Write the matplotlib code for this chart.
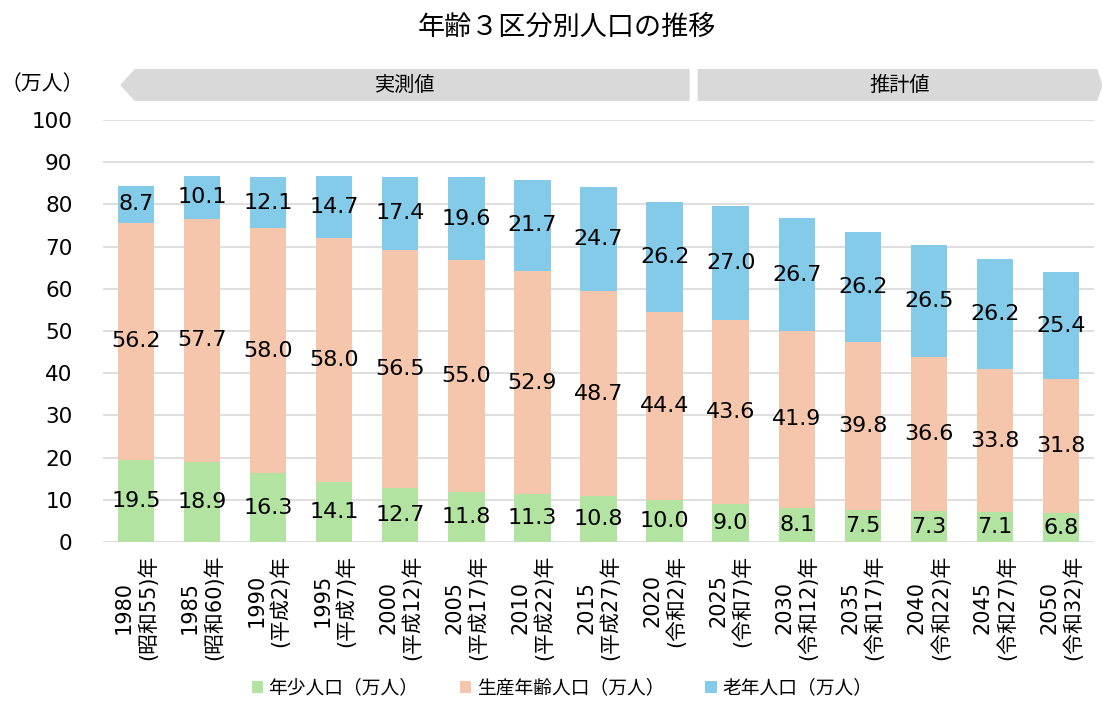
import numpy as np
import matplotlib
matplotlib.use("Agg")
import matplotlib.pyplot as plt
from matplotlib.patches import Polygon
from matplotlib.transforms import blended_transform_factory

plt.rcParams['font.family'] = ['DejaVu Sans', 'Noto Sans CJK JP']

# data (万人)
years = ["1980\n(昭和55)年", "1985\n(昭和60)年", "1990\n(平成2)年", "1995\n(平成7)年",
         "2000\n(平成12)年", "2005\n(平成17)年", "2010\n(平成22)年", "2015\n(平成27)年",
         "2020\n(令和2)年", "2025\n(令和7)年", "2030\n(令和12)年", "2035\n(令和17)年",
         "2040\n(令和22)年", "2045\n(令和27)年", "2050\n(令和32)年"]
young = [19.5, 18.9, 16.3, 14.1, 12.7, 11.8, 11.3, 10.8, 10.0, 9.0, 8.1, 7.5, 7.3, 7.1, 6.8]
working = [56.2, 57.7, 58.0, 58.0, 56.5, 55.0, 52.9, 48.7, 44.4, 43.6, 41.9, 39.8, 36.6, 33.8, 31.8]
old = [8.7, 10.1, 12.1, 14.7, 17.4, 19.6, 21.7, 24.7, 26.2, 27.0, 26.7, 26.2, 26.5, 26.2, 25.4]
series_names = ["年少人口（万人）", "生産年齢人口（万人）", "老年人口（万人）"]
colors = ["#B3E3A1", "#F5C6AC", "#84CBEA"]

fig = plt.figure(figsize=(11.02, 7.01), dpi=100)
ax = fig.add_axes([103 / 1102, 159 / 701, (1094 - 103) / 1102, 422 / 701])

x = np.arange(len(years))
w = 0.55
bottom = np.zeros(len(years))
for vals, name, c in zip([young, working, old], series_names, colors):
    vals = np.array(vals)
    bars = ax.bar(x, vals, w, bottom=bottom, color=c, label=name, zorder=2)
    for xi, b, v in zip(x, bottom, vals):
        ax.text(xi, b + v / 2, f"{v:.1f}", ha="center", va="center",
                fontsize=16, color="black", zorder=3)
    bottom = bottom + vals

ax.set_xlim(-0.5, len(years) - 0.5)
ax.set_ylim(0, 100)
ax.set_yticks(np.arange(0, 101, 10))
ax.yaxis.grid(True, color="#D9D9D9", linewidth=1.2, zorder=0)
ax.set_axisbelow(True)
for s in ax.spines.values():
    s.set_visible(False)
ax.tick_params(axis="both", length=0)
ax.tick_params(axis="y", labelsize=15.5, pad=22)
ax.set_xticks(x)
ax.set_xticklabels(years, rotation=90, fontsize=15, va="top", ha="center",
                   multialignment="center", linespacing=1.2)
ax.tick_params(axis="x", pad=9)

# title and unit
fig.text(0.514, 1 - 28 / 701, "年齢３区分別人口の推移", ha="center", va="center", fontsize=19.5)
fig.text(42 / 1102, 1 - 84 / 701, "（万人）", ha="center", va="center", fontsize=15)

# 実測値 / 推計値 bands
tr = blended_transform_factory(ax.transData, ax.transAxes)
y0, y1 = (542 - 101) / 422, (542 - 69) / 422
ym = (y0 + y1) / 2
left = Polygon([[-0.24, ym], [-0.02, y1], [8.38, y1], [8.38, y0], [-0.02, y0]],
               closed=True, transform=tr, facecolor="#D9D9D9", edgecolor="none", clip_on=False)
right = Polygon([[8.5, y0], [8.5, y1], [14.55, y1], [14.63, ym], [14.55, y0]],
                closed=True, transform=tr, facecolor="#D9D9D9", edgecolor="none", clip_on=False)
ax.add_patch(left)
ax.add_patch(right)
ax.text(4.07, ym, "実測値", transform=tr, ha="center", va="center", fontsize=14.5)
ax.text(11.56, ym, "推計値", transform=tr, ha="center", va="center", fontsize=14.5)

fig.legend(loc="center", bbox_to_anchor=(0.51, 1 - 688 / 701), ncol=3, frameon=False,
           fontsize=13.5, handlelength=0.6, handleheight=0.6, handletextpad=0.3,
           columnspacing=2.2)

fig.savefig("out.png", dpi=100)
